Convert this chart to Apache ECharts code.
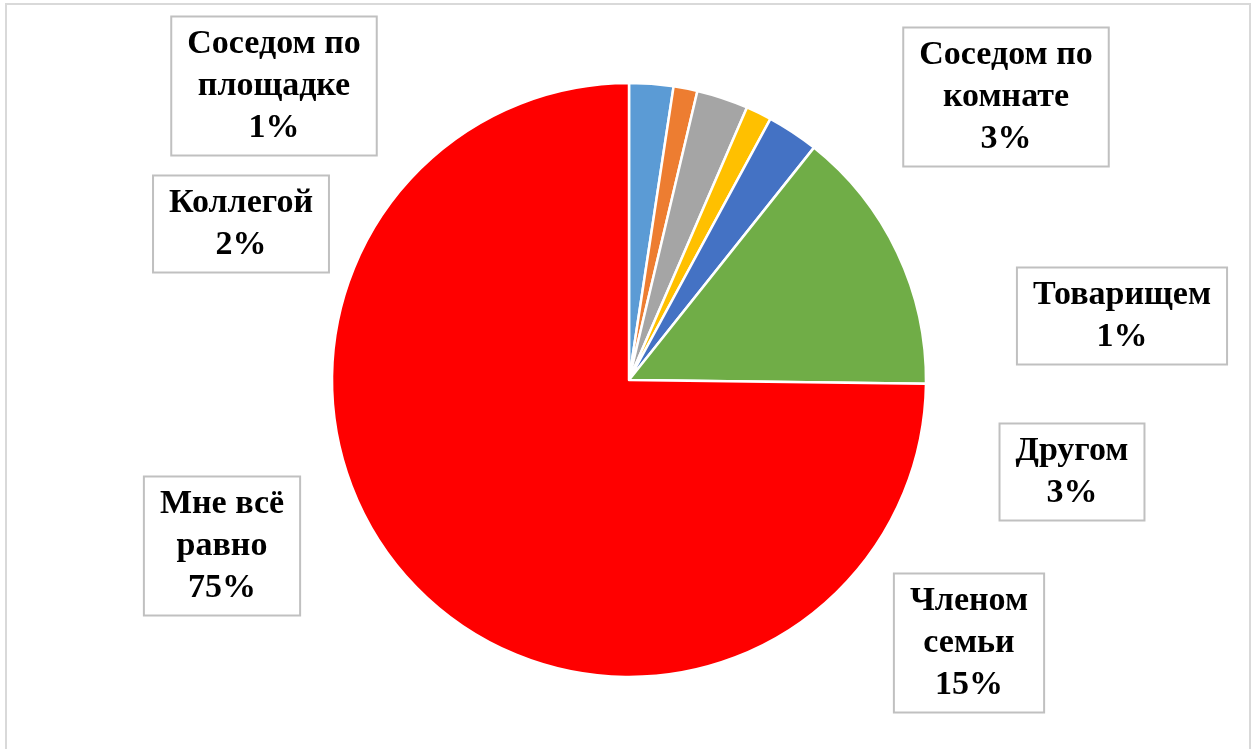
<!DOCTYPE html>
<html>
<head>
<meta charset="utf-8">
<script src="https://cdn.jsdelivr.net/npm/echarts@6/dist/echarts.min.js"></script>
<style>
  html, body { margin: 0; padding: 0; background: #fff; }
  #chart { width: 1251px; height: 749px; }
</style>
</head>
<body>
<div id="chart"></div>
<script>
// slices, clockwise from 12 o'clock
const categories = ['Коллегой', 'Соседом по площадке', 'Соседом по комнате', 'Товарищем', 'Другом', 'Членом семьи', 'Мне всё равно']
const labelNames = ['Коллегой', 'Соседом по\nплощадке', 'Соседом по\nкомнате', 'Товарищем', 'Другом', 'Членом\nсемьи', 'Мне всё\nравно']
const values = [2.4, 1.3, 2.8, 1.4, 2.8, 14.5, 74.8]
const colors = ['#5b9bd5', '#ed7d31', '#a5a5a5', '#ffc000', '#4472c4', '#70ad47', '#ff0000']

// label box centres (placed by hand in the original)
const labelPos = [[241, 224], [274, 86], [1006, 97], [1122, 316], [1072, 472], [969, 643], [222, 546]]

const chart = echarts.init(document.getElementById('chart'))

chart.setOption({
  animation: false,
  graphic: [{
    type: 'rect',
    shape: { x: 6, y: 4, width: 1244, height: 760 },
    style: { fill: 'none', stroke: '#d9d9d9', lineWidth: 2 },
    silent: true
  }],
  series: [{
    type: 'pie',
    center: [629, 380],
    radius: 297,
    startAngle: 90,
    clockwise: true,
    percentPrecision: 0,
    itemStyle: { borderColor: '#fff', borderWidth: 2.5 },
    label: {
      show: true,
      position: 'outside',
      formatter: p => labelNames[p.dataIndex] + '\n' + p.percent + '%',
      fontFamily: '"Liberation Serif", "Times New Roman", serif',
      fontWeight: 'bold',
      fontSize: 34,
      lineHeight: 42,
      color: '#000',
      align: 'center',
      backgroundColor: '#fff',
      borderColor: '#c0c0c0',
      borderWidth: 2,
      padding: [7, 15, 4, 15]
    },
    labelLine: { show: false },
    labelLayout: p => ({
      x: labelPos[p.dataIndex][0],
      y: labelPos[p.dataIndex][1],
      align: 'center',
      verticalAlign: 'middle'
    }),
    emphasis: { disabled: true },
    data: categories.map((name, i) => ({
      name,
      value: values[i],
      itemStyle: { color: colors[i] }
    }))
  }]
})
</script>
</body>
</html>
